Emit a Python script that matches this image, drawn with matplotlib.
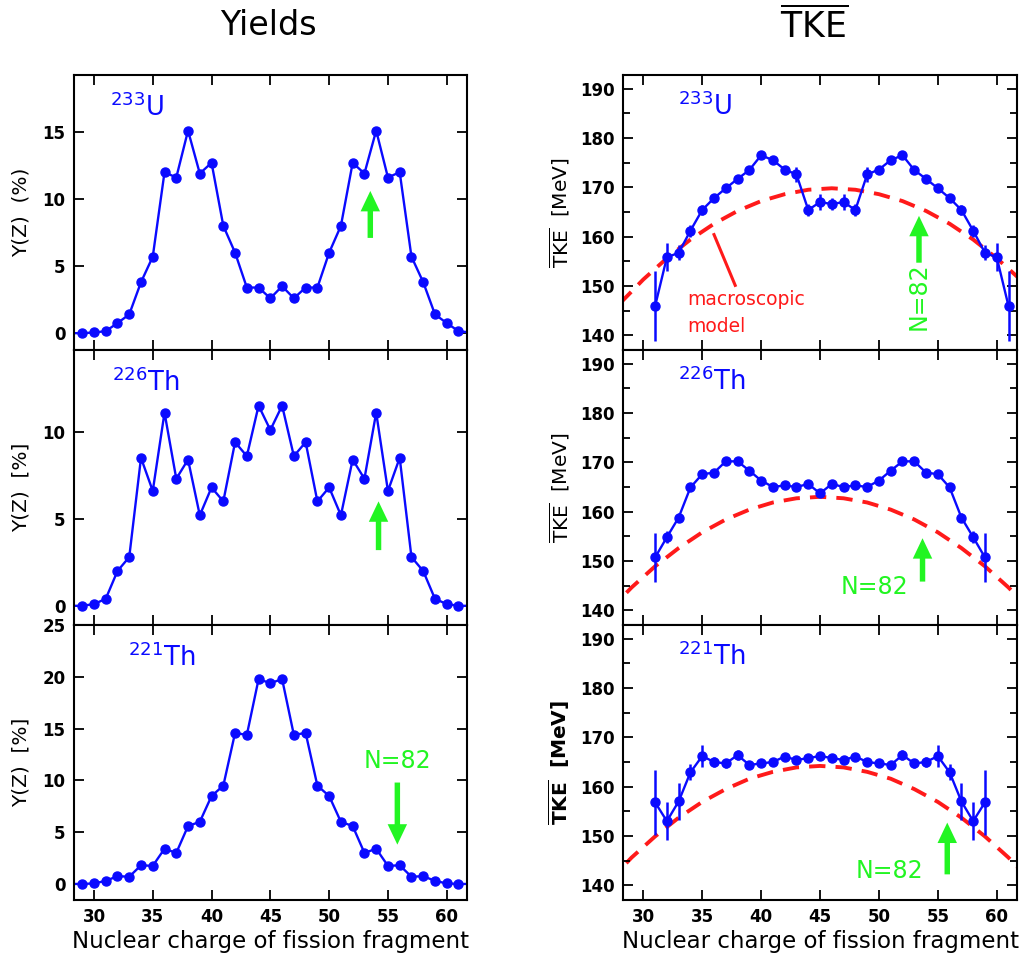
import matplotlib.pyplot as plt
from matplotlib.ticker import MultipleLocator

# fragment charge for yields (points beyond the frame are clipped)
Z_YIELD = list(range(28, 63))
Y_U233 = [0.0, 0.0, 0.05, 0.15, 0.75, 1.4, 3.8, 5.7, 12.0, 11.6, 15.1, 11.9,
          12.7, 8.0, 6.0, 3.4, 3.4, 2.6, 3.5, 2.6, 3.4, 3.4, 6.0, 8.0, 12.7,
          11.9, 15.1, 11.6, 12.0, 5.7, 3.8, 1.4, 0.75, 0.15, 0.05]
Y_TH226 = [0.0, 0.0, 0.1, 0.4, 2.0, 2.8, 8.5, 6.6, 11.1, 7.3, 8.4, 5.2, 6.8,
           6.0, 9.4, 8.6, 11.5, 10.1, 11.5, 8.6, 9.4, 6.0, 6.8, 5.2, 8.4, 7.3,
           11.1, 6.6, 8.5, 2.8, 2.0, 0.4, 0.1, 0.0, 0.0]
Y_TH221 = [0.0, 0.0, 0.05, 0.3, 0.75, 0.7, 1.8, 1.75, 3.4, 3.0, 5.6, 6.0, 8.5,
           9.5, 14.6, 14.4, 19.8, 19.4, 19.8, 14.4, 14.6, 9.5, 8.5, 6.0, 5.6,
           3.0, 3.4, 1.75, 1.8, 0.7, 0.75, 0.3, 0.05, 0.0, 0.0]

# mean total kinetic energy
Z_TKE_U233 = list(range(31, 62))
TKE_U233 = [145.9, 155.8, 156.7, 161.2, 165.4, 167.8, 169.8, 171.7, 173.5,
            176.5, 175.5, 173.6, 172.6, 165.4, 167.0, 166.6, 167.0, 165.4,
            172.6, 173.6, 175.5, 176.5, 173.5, 171.7, 169.8, 167.8, 165.4,
            161.2, 156.7, 155.8, 145.9]
ERR_U233 = [7.1, 2.8, 1.5, 1.2, 1.0, 0.8, 0.8, 0.8, 0.8, 0.8, 0.8, 0.8, 1.5,
            1.2, 1.6, 1.2, 1.6, 1.2, 1.5, 0.8, 0.8, 0.8, 0.8, 0.8, 0.8, 0.8,
            1.0, 1.2, 1.5, 2.8, 7.1]

Z_TKE_TH = list(range(31, 60))
TKE_TH226 = [150.7, 154.8, 158.8, 164.9, 167.6, 167.9, 170.2, 170.2, 168.3,
             166.3, 165.0, 165.3, 165.0, 165.6, 163.7, 165.6, 165.0, 165.3,
             165.0, 166.3, 168.3, 170.2, 170.2, 167.9, 167.6, 164.9, 158.8,
             154.8, 150.7]
ERR_TH226 = [5.0, 1.2, 1.0, 0.8, 0.6, 0.6, 0.6, 0.6, 0.6, 0.6, 0.6, 0.6, 0.6,
             0.6, 0.6, 0.6, 0.6, 0.6, 0.6, 0.6, 0.6, 0.6, 0.6, 0.6, 0.6, 0.8,
             1.0, 1.2, 5.0]
TKE_TH221 = [156.8, 153.0, 157.0, 162.9, 166.2, 165.0, 164.7, 166.4, 164.4,
             164.7, 165.0, 166.1, 165.4, 165.8, 166.2, 165.8, 165.4, 166.1,
             165.0, 164.7, 164.4, 166.4, 164.7, 165.0, 166.2, 162.9, 157.0,
             153.0, 156.8]
ERR_TH221 = [6.6, 3.9, 3.8, 1.6, 2.2, 1.0, 1.0, 1.0, 0.8, 0.6, 0.6, 0.6, 0.6,
             0.6, 0.6, 0.6, 0.6, 0.6, 0.6, 0.6, 0.8, 1.0, 1.0, 1.0, 2.2, 1.6,
             3.8, 3.9, 6.6]

# macroscopic model curves
Z_MODEL_U233 = [28, 30, 32, 34, 36, 38, 40, 42, 44, 46, 48, 50, 52, 54, 56,
                58, 60, 62]
MODEL_U233 = [146.4, 151.3, 155.6, 159.4, 162.6, 165.2, 167.2, 168.6, 169.5,
              169.8, 169.5, 168.6, 167.2, 165.2, 162.6, 159.4, 155.6, 151.3]
Z_MODEL_TH = [27, 29, 31, 33, 35, 37, 39, 41, 43, 45, 47, 49, 51, 53, 55, 57,
              59, 61, 63]
MODEL_TH226 = [139.7, 144.6, 148.9, 152.6, 155.8, 158.4, 160.4, 161.85, 162.7,
               163.0, 162.7, 161.85, 160.4, 158.4, 155.8, 152.6, 148.9, 144.6,
               139.7]
MODEL_TH221 = [140.6, 145.6, 149.9, 153.7, 156.9, 159.5, 161.6, 163.0, 163.9,
               164.2, 163.9, 163.0, 161.6, 159.5, 156.9, 153.7, 149.9, 145.6,
               140.6]

ISOTOPES = ["$^{233}$U", "$^{226}$Th", "$^{221}$Th"]

BLUE = "#0a0aff"
RED = "#ff1a1a"
GREEN = "#22f522"

fig = plt.figure(figsize=(10.26, 9.64), dpi=100)

panel_h = 0.2853
bottoms = [0.637, 0.3517, 0.0664]
left_axes = [fig.add_axes([0.0721, b, 0.3828, panel_h]) for b in bottoms]
right_axes = [fig.add_axes([0.6075, b, 0.3835, panel_h]) for b in bottoms]


def style_axis(ax, bottom_row):
    ax.set_xlim(28.3, 61.7)
    ax.xaxis.set_major_locator(MultipleLocator(5))
    ax.tick_params(which="both", direction="in", top=True, right=True,
                   width=1.3, labelsize=12, pad=6)
    ax.tick_params(which="major", length=7)
    ax.tick_params(which="minor", length=5)
    for sp in ax.spines.values():
        sp.set_linewidth(1.5)
    if bottom_row:
        ax.set_xlabel("Nuclear charge of fission fragment", fontsize=16.5,
                      labelpad=3)
    else:
        ax.tick_params(labelbottom=False)
    for lab in ax.get_xticklabels() + ax.get_yticklabels():
        lab.set_fontweight("bold")


def green_arrow(ax, x, y_from, y_to):
    ax.annotate("", xy=(x, y_to), xytext=(x, y_from),
                arrowprops=dict(arrowstyle="simple,head_length=1.05,head_width=1.0,tail_width=0.28",
                                mutation_scale=14, color=GREEN, lw=0,
                                shrinkA=0, shrinkB=0))


# yields
yields = [Y_U233, Y_TH226, Y_TH221]
ylims = [(-1.25, 19.25), (-1.1, 14.7), (-1.55, 25.03)]
ylabels = ["Y(Z)  (%)", "Y(Z)  [%]", "Y(Z)  [%]"]
iso_x = [0.092, 0.096, 0.138]
for i, ax in enumerate(left_axes):
    ax.plot(Z_YIELD, yields[i], "-o", color=BLUE, lw=1.7, ms=6.5,
            markevery=slice(1, -1))
    ax.set_ylim(*ylims[i])
    ax.yaxis.set_major_locator(MultipleLocator(5))
    ax.set_ylabel(ylabels[i], fontsize=14.5)
    ax.yaxis.set_label_coords(-0.11, 0.5)
    ax.text(iso_x[i], 0.85, ISOTOPES[i], transform=ax.transAxes, color=BLUE,
            fontsize=18.5, va="baseline", ha="left")
    style_axis(ax, i == 2)

green_arrow(left_axes[0], 53.5, 7.1, 10.6)
green_arrow(left_axes[1], 54.2, 3.2, 6.0)
green_arrow(left_axes[2], 55.8, 9.8, 3.8)
left_axes[2].text(55.8, 11.9, "N=82", color=GREEN, fontsize=17,
                  ha="center", va="center")

# TKE
tke = [(Z_TKE_U233, TKE_U233, ERR_U233, Z_MODEL_U233, MODEL_U233),
       (Z_TKE_TH, TKE_TH226, ERR_TH226, Z_MODEL_TH, MODEL_TH226),
       (Z_TKE_TH, TKE_TH221, ERR_TH221, Z_MODEL_TH, MODEL_TH221)]
for i, ax in enumerate(right_axes):
    z, v, e, zm, m = tke[i]
    ax.plot(zm, m, color=RED, lw=2.8, linestyle=(0, (4.2, 2.6)), zorder=1)
    ax.errorbar(z, v, yerr=e, fmt="-o", color=BLUE, lw=1.7, ms=6.5,
                elinewidth=1.8, capsize=0, zorder=2)
    ax.set_ylim(137.0, 192.8)
    ax.yaxis.set_major_locator(MultipleLocator(10))
    ax.yaxis.set_minor_locator(MultipleLocator(5))
    if i == 2:
        ax.set_ylabel(r"$\overline{\mathbf{TKE}}$  [MeV]", fontsize=14.5,
                      fontweight="bold")
    else:
        ax.set_ylabel(r"$\overline{\mathrm{TKE}}$  [MeV]", fontsize=14.5)
    ax.yaxis.set_label_coords(-0.13, 0.5)
    ax.text(0.139, 0.855, ISOTOPES[i], transform=ax.transAxes, color=BLUE,
            fontsize=18.5, va="baseline", ha="left")
    style_axis(ax, i == 2)

ax = right_axes[0]
ax.text(33.7, 147.2, "macroscopic", color=RED, fontsize=13.5, ha="left",
        va="center")
ax.text(33.7, 141.7, "model", color=RED, fontsize=13.5, ha="left",
        va="center")
ax.plot([37.8, 36.0], [150.1, 160.4], color=RED, lw=2.2)
green_arrow(ax, 53.4, 154.7, 164.2)
ax.text(53.4, 147.9, "N=82", color=GREEN, fontsize=17, rotation=90,
        ha="center", va="center")

green_arrow(right_axes[1], 53.7, 145.8, 154.6)
right_axes[1].text(49.6, 144.7, "N=82", color=GREEN, fontsize=17,
                   ha="center", va="center")
green_arrow(right_axes[2], 55.8, 142.2, 152.7)
right_axes[2].text(50.9, 142.9, "N=82", color=GREEN, fontsize=17,
                   ha="center", va="center")

fig.text(0.2613, 0.974, "Yields", fontsize=24, ha="center", va="center")
fig.text(0.7934, 0.974, r"$\overline{\mathrm{TKE}}$", fontsize=25,
         ha="center", va="center")

fig.savefig("out.png", dpi=100)
